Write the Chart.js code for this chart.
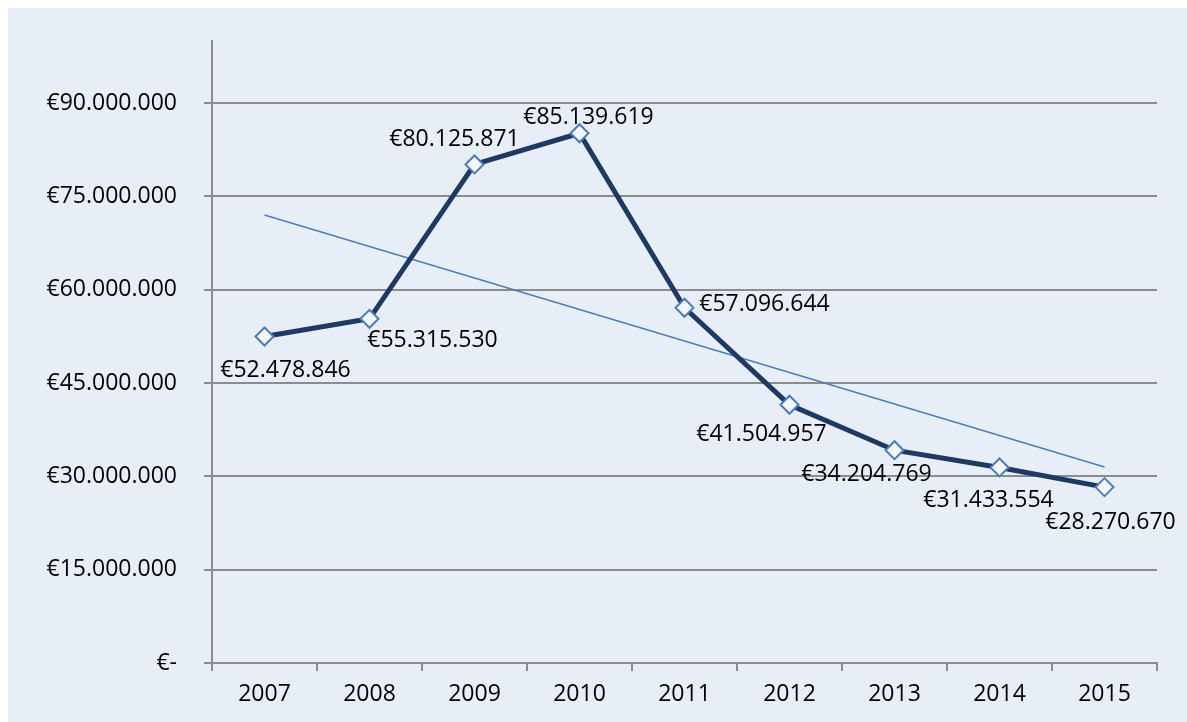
<!DOCTYPE html>
<html lang="nl">
<head>
    <meta charset="UTF-8">
    <title>Bedragen per jaar</title>
    <script src="https://cdn.jsdelivr.net/npm/chart.js"></script>
    <style>
        html, body { margin: 0; padding: 0; background: #ffffff; }
        #wrap { width: 1187px; height: 722px; position: relative; }
    </style>
</head>
<body>
    <div id="wrap">
        <canvas id="chart" width="1187" height="722"></canvas>
    </div>

    <script>
        // data
        const years = ['2007', '2008', '2009', '2010', '2011', '2012', '2013', '2014', '2015'];
        const amounts = [52478846, 55315530, 80125871, 85139619, 57096644, 41504957, 34204769, 31433554, 28270670];
        // trendline end points
        const trend = [72000000, null, null, null, null, null, null, null, 31500000];
        const yTicks = [0, 15000000, 30000000, 45000000, 60000000, 75000000, 90000000];

        const FONT = '"Open Sans", "Liberation Sans", sans-serif';

        function euro(v) {
            if (v === 0) return '€-';
            return '€' + Math.round(v).toString().replace(/\B(?=(\d{3})+(?!\d))/g, '.');
        }

        // label offsets relative to each point (dx, dy)
        const labelOffsets = [[21, 34], [63, 22], [-20, -25], [9, -16], [80, -3], [-28, 30], [-28, 24], [-11, 33], [6, 35]];

        const backgroundPlugin = {
            id: 'bg',
            beforeDraw(chart) {
                const ctx = chart.ctx;
                ctx.save();
                ctx.fillStyle = '#e8eef7';
                ctx.fillRect(8, 8, chart.width - 8, chart.height - 8);
                ctx.restore();
            }
        };

        const labelPlugin = {
            id: 'valueLabels',
            afterDatasetsDraw(chart) {
                const ctx = chart.ctx;
                const meta = chart.getDatasetMeta(0);
                ctx.save();
                ctx.font = '23px ' + FONT;
                ctx.fillStyle = '#000000';
                ctx.textAlign = 'center';
                ctx.textBaseline = 'middle';
                meta.data.forEach((pt, i) => {
                    const off = labelOffsets[i];
                    ctx.fillText(euro(amounts[i]), pt.x + off[0], pt.y + off[1]);
                });
                ctx.restore();
            }
        };

        const ctx = document.getElementById('chart').getContext('2d');
        new Chart(ctx, {
            type: 'line',
            data: {
                labels: years,
                datasets: [{
                    label: 'Bedrag',
                    data: amounts,
                    borderColor: '#1c3a62',
                    borderWidth: 5,
                    tension: 0,
                    pointStyle: 'rectRot',
                    pointRadius: 9,
                    pointBackgroundColor: '#f2f6fb',
                    pointBorderColor: '#4a7ebb',
                    pointBorderWidth: 2,
                    order: 1
                }, {
                    label: 'Trend',
                    data: trend,
                    borderColor: '#4a7ebb',
                    borderWidth: 1.5,
                    pointRadius: 0,
                    spanGaps: true,
                    order: 2
                }]
            },
            options: {
                responsive: false,
                animation: false,
                layout: { padding: { top: 35, right: 30, bottom: 0, left: 0 } },
                plugins: {
                    legend: { display: false },
                    tooltip: { enabled: false }
                },
                scales: {
                    x: {
                        offset: true,
                        grid: {
                            offset: true,
                            drawOnChartArea: false,
                            drawTicks: true,
                            tickLength: 8,
                            color: '#8c8c8c',
                            lineWidth: 2
                        },
                        border: { display: true, color: '#8c8c8c', width: 2 },
                        ticks: {
                            color: '#000000',
                            font: { family: FONT, size: 23 },
                            padding: 10,
                            maxRotation: 0
                        },
                        afterFit(scale) { scale.height = 59; }
                    },
                    y: {
                        min: 0,
                        max: 100000000,
                        afterBuildTicks(scale) {
                            scale.ticks = yTicks.map(v => ({ value: v }));
                        },
                        grid: {
                            color: '#8c8c8c',
                            lineWidth: 2,
                            tickLength: 8
                        },
                        border: { display: true, color: '#8c8c8c', width: 2 },
                        ticks: {
                            color: '#000000',
                            font: { family: FONT, size: 23 },
                            padding: 27,
                            callback: (v) => euro(v)
                        },
                        afterFit(scale) { scale.width = 212; }
                    }
                }
            },
            plugins: [backgroundPlugin, labelPlugin]
        });
    </script>
</body>
</html>
